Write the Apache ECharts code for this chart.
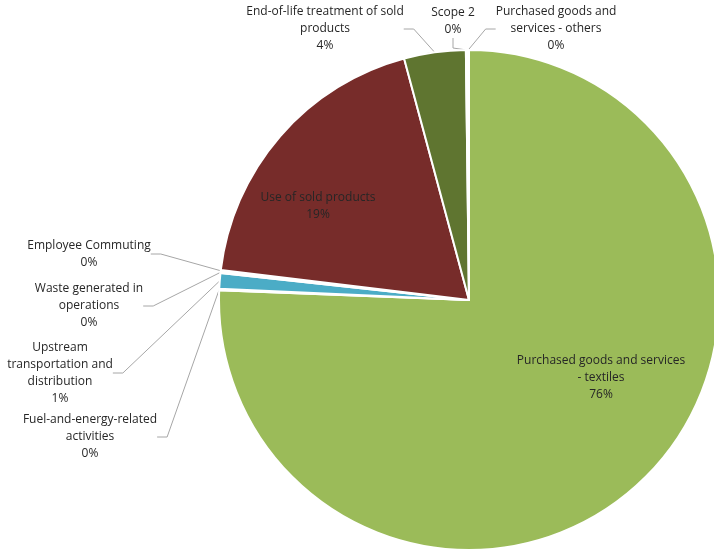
<!DOCTYPE html>
<html><head><meta charset="utf-8">
<script src="https://cdn.jsdelivr.net/npm/echarts@6/dist/echarts.min.js"></script>
<style>html,body{margin:0;padding:0;background:#fff}#c{width:714px;height:553px}</style>
</head><body><div id="c"></div>
<script>
var categories = [
  'Purchased goods and services\n- textiles',
  'Fuel-and-energy-related\nactivities',
  'Upstream\ntransportation and\ndistribution',
  'Waste generated in\noperations',
  'Employee Commuting',
  'Use of sold products',
  'End-of-life treatment of sold\nproducts',
  'Scope 2',
  'Purchased goods and\nservices - others'
];
var values = [76, 0.1, 1, 0.1, 0.1, 19, 4, 0.1, 0.1];
var colors = ['#9BBB59', '#F79646', '#4BACC6', '#8064A2', '#C0504D', '#772C2A', '#5F7530', '#4F81BD', '#1F497D'];
var insideLabel = [true, false, false, false, false, true, false, false, false];
// label anchor positions (layout only)
var labelPos = [[601,378],[90,437],[60,373],[89,306],[89,254],[318,206],[325,29],[453,21],[556,29]];

var chart = echarts.init(document.getElementById('c'));
var data = categories.map(function (c, i) {
  return {
    name: c, value: values[i],
    itemStyle: { color: colors[i] },
    labelLine: { show: !insideLabel[i] }
  };
});
chart.setOption({
  animation: false,
  series: [{
    type: 'pie',
    center: [469, 300],
    radius: 250,
    startAngle: 90,
    clockwise: true,
    avoidLabelOverlap: false,
    itemStyle: { borderColor: '#fff', borderWidth: 2 },
    label: {
      show: true,
      position: 'outside',
      fontFamily: 'Open Sans',
      fontSize: 12,
      lineHeight: 17,
      color: '#262626',
      align: 'center',
      formatter: function (p) { return p.name + '\n' + Math.round(p.percent) + '%'; }
    },
    labelLine: { show: true, lineStyle: { color: '#A6A6A6', width: 1 }, length: 10, length2: 10 },
    labelLayout: function (p) {
      var pos = labelPos[p.dataIndex];
      return { x: pos[0], y: pos[1], align: 'center', verticalAlign: 'middle' };
    },
    data: data
  }]
});
</script></body></html>
